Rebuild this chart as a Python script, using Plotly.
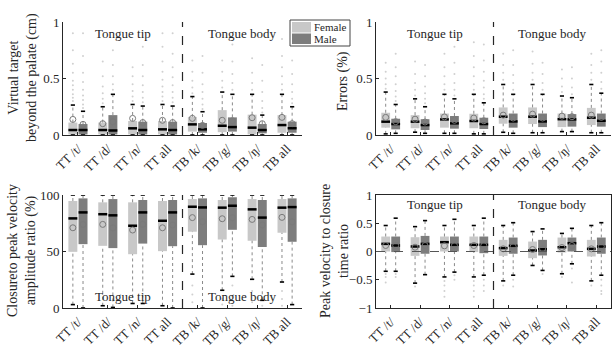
import plotly.graph_objects as go

W, H = 613, 349

categories = ["TT /t/", "TT /d/", "TT /n/", "TT all", "TB /k/", "TB /g/", "TB /ŋ/", "TB all"]
genders = ["Female", "Male"]

# ---------- Panel 1: Virtual target beyond the palate (cm) ----------
vt_f_low = [0, 0, 0, 0, 0, 0, 0, 0]
vt_f_q1 = [0.005, 0.005, 0.005, 0.005, 0.03, 0.025, 0.005, 0.02]
vt_f_med = [0.044, 0.044, 0.059, 0.05, 0.094, 0.082, 0.065, 0.088]
vt_f_q3 = [0.11, 0.11, 0.124, 0.124, 0.16, 0.22, 0.18, 0.176]
vt_f_high = [0.265, 0.25, 0.27, 0.27, 0.34, 0.38, 0.36, 0.36]
vt_f_mean = [0.138, 0.10, 0.147, 0.13, 0.147, 0.13, 0.153, 0.156]
vt_f_out = [[0.30, 0.33, 0.36, 0.40, 0.44, 0.48, 0.55, 0.63, 0.75, 0.90],
            [0.28, 0.32, 0.37, 0.43, 0.52, 0.65],
            [0.30, 0.34, 0.39, 0.45, 0.52, 0.60],
            [0.30, 0.34, 0.38, 0.43, 0.49, 0.56, 0.65, 0.78, 0.90],
            [0.37, 0.42, 0.48, 0.56, 0.66],
            [0.42, 0.48, 0.56, 0.66],
            [0.40, 0.46, 0.55, 0.68],
            [0.40, 0.45, 0.52, 0.60, 0.70, 0.85]]
vt_m_low = [0, 0, 0, 0, 0, 0, 0, 0]
vt_m_q1 = [0.005, 0.005, 0.005, 0.005, 0.02, 0.03, 0.015, 0.02]
vt_m_med = [0.044, 0.04, 0.044, 0.044, 0.05, 0.07, 0.044, 0.06]
vt_m_q3 = [0.097, 0.176, 0.118, 0.118, 0.106, 0.156, 0.097, 0.118]
vt_m_high = [0.21, 0.36, 0.256, 0.256, 0.206, 0.36, 0.176, 0.25]
vt_m_mean = [0.094, 0.118, 0.11, 0.11, 0.085, 0.126, 0.10, 0.10]
vt_m_out = [[0.24, 0.27, 0.31, 0.35, 0.40, 0.47, 0.55, 0.70, 0.90],
            [0.40, 0.45, 0.52, 0.62, 0.75],
            [0.29, 0.33, 0.38, 0.44, 0.52, 0.62, 0.78],
            [0.29, 0.33, 0.38, 0.44, 0.51, 0.60, 0.72, 0.90],
            [0.23, 0.27, 0.32, 0.38, 0.45, 0.55, 0.70],
            [0.40, 0.46, 0.54, 0.65, 0.80],
            [0.20, 0.24, 0.30, 0.38, 0.48, 0.62],
            [0.28, 0.32, 0.38, 0.45, 0.54, 0.66, 0.80]]

# ---------- Panel 2: Errors (%) ----------
er_f_low = [0.01, 0.025, 0.015, 0.01, 0.024, 0.02, 0.03, 0.02]
er_f_q1 = [0.065, 0.06, 0.065, 0.06, 0.10, 0.097, 0.07, 0.088]
er_f_med = [0.118, 0.118, 0.138, 0.124, 0.162, 0.162, 0.14, 0.153]
er_f_q3 = [0.197, 0.176, 0.19, 0.188, 0.244, 0.244, 0.19, 0.24]
er_f_high = [0.38, 0.32, 0.36, 0.36, 0.447, 0.447, 0.345, 0.447]
er_f_mean = [0.156, 0.14, 0.16, 0.15, 0.176, 0.185, 0.167, 0.176]
er_f_out = [[0.41, 0.45, 0.50, 0.56, 0.64],
            [0.35, 0.40, 0.46, 0.54, 0.65],
            [0.40, 0.45, 0.52, 0.60, 0.72],
            [0.40, 0.45, 0.52, 0.60, 0.70, 0.82],
            [0.49, 0.55, 0.62, 0.72],
            [0.49, 0.55, 0.63, 0.74],
            [0.38, 0.43, 0.50, 0.58],
            [0.49, 0.55, 0.62, 0.72]]
er_m_low = [0.015, 0.015, 0.015, 0.01, 0.015, 0.02, 0.03, 0.02]
er_m_q1 = [0.05, 0.044, 0.056, 0.053, 0.065, 0.07, 0.074, 0.074]
er_m_med = [0.097, 0.088, 0.103, 0.097, 0.12, 0.12, 0.138, 0.126]
er_m_q3 = [0.144, 0.14, 0.168, 0.153, 0.19, 0.19, 0.185, 0.19]
er_m_high = [0.27, 0.25, 0.32, 0.285, 0.36, 0.36, 0.33, 0.37]
er_m_mean = [0.118, 0.115, 0.13, 0.126, 0.15, 0.15, 0.162, 0.156]
er_m_out = [[0.30, 0.34, 0.39, 0.45, 0.52, 0.60, 0.72],
            [0.28, 0.32, 0.37, 0.43, 0.52, 0.62],
            [0.35, 0.40, 0.46, 0.54, 0.64, 0.78],
            [0.32, 0.36, 0.42, 0.48, 0.56, 0.66, 0.80],
            [0.40, 0.46, 0.53, 0.62, 0.75],
            [0.40, 0.46, 0.54, 0.64],
            [0.36, 0.42, 0.50, 0.60],
            [0.41, 0.47, 0.55, 0.65, 0.75]]

# ---------- Panel 3: Closure to peak velocity amplitude ratio (%) ----------
cp_f_low = [3, 2, 4, 2, 30, 15.7, 25.4, 23]
cp_f_q1 = [49.7, 55, 47.6, 50.3, 67.5, 60.6, 59.5, 66.6]
cp_f_med = [79.3, 83, 72.8, 77.2, 89.6, 88.8, 87.3, 88.8]
cp_f_q3 = [94.7, 93.5, 93.5, 94.7, 96.4, 95.6, 96.4, 96.4]
cp_f_high = [100, 100, 100, 100, 100, 100, 100, 100]
cp_f_mean = [71, 74, 69, 71, 80, 79, 78.4, 80.2]
cp_f_out = [[], [], [], [], [5, 12, 20], [3, 8], [5, 15], [2, 8, 15]]
cp_m_low = [0, 0.5, 4, 0, 0, 28, 6.8, 3]
cp_m_q1 = [56.5, 53, 57, 54.7, 55.6, 69.2, 54, 58.6]
cp_m_med = [84.6, 82, 84.6, 84.6, 89, 90.5, 80, 89.3]
cp_m_q3 = [97, 96.4, 95.6, 95.6, 97, 98, 95.6, 97]
cp_m_high = [100, 100, 100, 100, 100, 100, 100, 100]
cp_m_mean = [74, 71, 74, 73.4, 76.3, 80, 73.4, 76.3]
cp_m_out = [[], [], [], [], [], [2, 10, 20], [2], []]

# ---------- Panel 4: Peak velocity to closure time ratio ----------
pv_f_low = [-0.35, -0.56, -0.45, -0.45, -0.52, -0.247, -0.394, -0.52]
pv_f_q1 = [0.0, -0.077, 0.0, -0.01, -0.077, -0.118, -0.018, -0.088]
pv_f_med = [0.135, 0.088, 0.165, 0.118, 0.06, 0.018, 0.076, 0.047]
pv_f_q3 = [0.265, 0.253, 0.265, 0.265, 0.206, 0.176, 0.247, 0.206]
pv_f_high = [0.46, 0.44, 0.46, 0.46, 0.46, 0.353, 0.32, 0.46]
pv_f_mean = [0.106, 0.076, 0.10, 0.106, 0.047, 0.035, 0.07, 0.047]
pv_f_out = [[-0.40, -0.45, -0.55], [-0.62], [-0.52, -0.60, -0.70, -0.80],
            [-0.52, -0.60, -0.70, -0.80], [-0.60], [], [-0.45], [-0.60]]
pv_m_low = [-0.35, -0.41, -0.365, -0.42, -0.42, -0.335, -0.218, -0.42]
pv_m_q1 = [-0.01, -0.04, 0.0, -0.03, -0.04, -0.07, 0.0, -0.04]
pv_m_med = [0.106, 0.135, 0.118, 0.118, 0.1, 0.04, 0.147, 0.088]
pv_m_q3 = [0.265, 0.276, 0.265, 0.265, 0.247, 0.206, 0.247, 0.247]
pv_m_high = [0.59, 0.547, 0.57, 0.59, 0.51, 0.40, 0.41, 0.51]
pv_m_mean = [0.106, 0.106, 0.106, 0.106, 0.088, 0.047, 0.106, 0.088]
pv_m_out = [[-0.40, -0.45], [], [-0.42, -0.50], [-0.50, -0.60, -0.70],
            [-0.50, -0.62], [-0.40], [-0.30, -0.55], [-0.50, -0.60, -0.70, -0.75]]

FILL = {"Female": "#c8c8c8", "Male": "#7d7d7d"}
OFFSET = {"Female": -0.17, "Male": 0.17}
BOXW = 0.30
FONT = "Liberation Serif, 'DejaVu Serif', serif"

fig = go.Figure()


def add_panel(xa, ya, female, male):
    for g, st in (("Female", female), ("Male", male)):
        low, q1, med, q3, high, mean, out = st
        pos = [i + 1 + OFFSET[g] for i in range(len(categories))]
        fig.add_trace(go.Bar(x=pos, base=q1, y=[b - a for a, b in zip(q1, q3)],
                             width=BOXW, marker=dict(color=FILL[g], line=dict(width=0)),
                             xaxis=xa, yaxis=ya, showlegend=False, hoverinfo="skip"))
        wx, wy = [], []
        for p, lo, a, b, hi in zip(pos, low, q1, q3, high):
            wx += [p, p, None, p, p, None]
            wy += [lo, a, None, b, hi, None]
        fig.add_trace(go.Scatter(x=wx, y=wy, mode="lines",
                                 line=dict(color="#8a8a8a", width=1, dash="dot"),
                                 xaxis=xa, yaxis=ya, showlegend=False, hoverinfo="skip"))
        cx, cy = [], []
        for p, lo, hi in zip(pos, low, high):
            cx += [p - 0.07, p + 0.07, None, p - 0.07, p + 0.07, None]
            cy += [hi, hi, None, lo, lo, None]
        fig.add_trace(go.Scatter(x=cx, y=cy, mode="lines",
                                 line=dict(color="black", width=1.6),
                                 xaxis=xa, yaxis=ya, showlegend=False, hoverinfo="skip"))
        mx, my = [], []
        for p, m in zip(pos, med):
            mx += [p - BOXW / 2, p + BOXW / 2, None]
            my += [m, m, None]
        fig.add_trace(go.Scatter(x=mx, y=my, mode="lines",
                                 line=dict(color="black", width=2.5),
                                 xaxis=xa, yaxis=ya, showlegend=False, hoverinfo="skip"))
        fig.add_trace(go.Scatter(x=pos, y=mean, mode="markers",
                                 marker=dict(symbol="circle-open", size=6,
                                             color="#7a7a7a", line=dict(width=1)),
                                 xaxis=xa, yaxis=ya, showlegend=False, hoverinfo="skip"))
        ox, oy = [], []
        for p, vals in zip(pos, out):
            ox += [p] * len(vals)
            oy += vals
        fig.add_trace(go.Scatter(x=ox, y=oy, mode="markers",
                                 marker=dict(size=2, color="#d0d0d0"),
                                 xaxis=xa, yaxis=ya, showlegend=False, hoverinfo="skip"))


add_panel("x", "y",
          (vt_f_low, vt_f_q1, vt_f_med, vt_f_q3, vt_f_high, vt_f_mean, vt_f_out),
          (vt_m_low, vt_m_q1, vt_m_med, vt_m_q3, vt_m_high, vt_m_mean, vt_m_out))
add_panel("x2", "y2",
          (er_f_low, er_f_q1, er_f_med, er_f_q3, er_f_high, er_f_mean, er_f_out),
          (er_m_low, er_m_q1, er_m_med, er_m_q3, er_m_high, er_m_mean, er_m_out))
add_panel("x3", "y3",
          (cp_f_low, cp_f_q1, cp_f_med, cp_f_q3, cp_f_high, cp_f_mean, cp_f_out),
          (cp_m_low, cp_m_q1, cp_m_med, cp_m_q3, cp_m_high, cp_m_mean, cp_m_out))
add_panel("x4", "y4",
          (pv_f_low, pv_f_q1, pv_f_med, pv_f_q3, pv_f_high, pv_f_mean, pv_f_out),
          (pv_m_low, pv_m_q1, pv_m_med, pv_m_q3, pv_m_high, pv_m_mean, pv_m_out))

# domains (pixel-based)
xl = [63 / W, 302 / W]
xr = [376 / W, 611 / W]
yt = [1 - 135 / H, 1 - 22 / H]
yb = [1 - 308 / H, 1 - 195 / H]

axis_common = dict(showline=True, linecolor="#262626", linewidth=1, ticks="inside",
                   ticklen=3, tickcolor="#262626", showgrid=False, zeroline=False,
                   automargin=False,
                   tickfont=dict(family=FONT, size=13, color="#262626"))
xcommon = dict(axis_common, range=[0.5, 8.5], tickvals=list(range(1, 9)),
               ticktext=categories, tickangle=-45)

fig.update_layout(
    template="none",
    width=W, height=H, autosize=False,
    margin=dict(l=0, r=0, t=0, b=0),
    paper_bgcolor="white", plot_bgcolor="white",
    barmode="overlay", showlegend=False,
    xaxis=dict(xcommon, domain=xl, anchor="y"),
    yaxis=dict(axis_common, domain=yt, range=[0, 1], tickvals=[0, 0.5, 1], anchor="x"),
    xaxis2=dict(xcommon, domain=xr, anchor="y2"),
    yaxis2=dict(axis_common, domain=yt, range=[0, 1], tickvals=[0, 0.5, 1], anchor="x2"),
    xaxis3=dict(xcommon, domain=xl, anchor="y3"),
    yaxis3=dict(axis_common, domain=yb, range=[0, 100], tickvals=[0, 50, 100], anchor="x3"),
    xaxis4=dict(xcommon, domain=xr, anchor="y4", mirror=True),
    yaxis4=dict(axis_common, domain=yb, range=[-1, 1], tickvals=[-1, -0.5, 0, 0.5, 1],
                anchor="x4", mirror=True),
)

# divider lines between tongue tip and tongue body
for xa, ya in (("x", "y"), ("x2", "y2"), ("x3", "y3"), ("x4", "y4")):
    fig.add_shape(type="line", xref=xa, yref=ya + " domain", x0=4.5, x1=4.5, y0=0, y1=1,
                  line=dict(color="#262626", width=1.2, dash="dash"))
fig.add_shape(type="line", xref="x4 domain", yref="y4", x0=0, x1=1, y0=0, y1=0,
              line=dict(color="#555555", width=1.2, dash="dash"))

# region labels
label_pos = {("x", "y"): 0.9, ("x2", "y2"): 0.9, ("x3", "y3"): 10, ("x4", "y4"): 0.83}
for (xa, ya), yv in label_pos.items():
    for txt, xv in (("Tongue tip", 2.5), ("Tongue body", 6.5)):
        fig.add_annotation(x=xv, y=yv, xref=xa, yref=ya, text=txt, showarrow=False,
                           font=dict(family=FONT, size=13, color="#262626"),
                           xanchor="center", yanchor="middle")

# y-axis titles
ytitles = [("Virtual target<br>beyond the palate (cm)", 23, 78),
           ("Errors (%)", 343, 81),
           ("Closureto peak velocity<br>amplitude ratio (%)", 22, 251),
           ("Peak velocity to closure<br>time ratio", 334, 251)]
for txt, px, py in ytitles:
    fig.add_annotation(x=px / W, y=1 - py / H, xref="paper", yref="paper", text=txt,
                       showarrow=False, textangle=-90, xanchor="center", yanchor="middle",
                       font=dict(family=FONT, size=14, color="#262626"))

# legend (drawn manually to match the boxed legend of the original)
lx0, lx1, ly0, ly1 = 290, 350, 20, 46
fig.add_shape(type="rect", xref="paper", yref="paper", x0=lx0 / W, x1=lx1 / W,
              y0=1 - ly1 / H, y1=1 - ly0 / H, line=dict(color="#444444", width=1),
              fillcolor="white")
for i, g in enumerate(genders):
    top = 22 + i * 11.5
    fig.add_shape(type="rect", xref="paper", yref="paper", x0=292 / W, x1=311 / W,
                  y0=1 - (top + 10.5) / H, y1=1 - top / H, line=dict(width=0),
                  fillcolor=FILL[g])
    fig.add_annotation(x=312 / W, y=1 - (top + 5.5) / H, xref="paper", yref="paper",
                       text=g, showarrow=False, xanchor="left", yanchor="middle",
                       font=dict(family=FONT, size=11, color="#262626"))

fig.write_html("out.html", config={"displayModeBar": False},
               post_script="document.body.style.margin='0';"
                           "document.body.style.overflow='hidden';")
